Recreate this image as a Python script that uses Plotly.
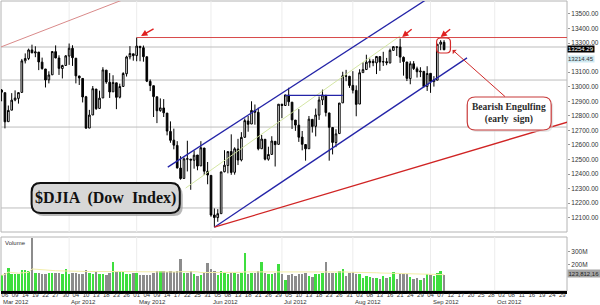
import plotly.graph_objects as go
import pandas as pd

# ---------------- data ----------------
dates = [
 "2012-03-05","2012-03-06","2012-03-07","2012-03-08","2012-03-09","2012-03-12","2012-03-13","2012-03-14","2012-03-15","2012-03-16",
 "2012-03-19","2012-03-20","2012-03-21","2012-03-22","2012-03-23","2012-03-26","2012-03-27","2012-03-28","2012-03-29","2012-03-30",
 "2012-04-02","2012-04-03","2012-04-04","2012-04-05","2012-04-09","2012-04-10","2012-04-11","2012-04-12","2012-04-13","2012-04-16",
 "2012-04-17","2012-04-18","2012-04-19","2012-04-20","2012-04-23","2012-04-24","2012-04-25","2012-04-26","2012-04-27","2012-04-30",
 "2012-05-01","2012-05-02","2012-05-03","2012-05-04","2012-05-07","2012-05-08","2012-05-09","2012-05-10","2012-05-11","2012-05-14",
 "2012-05-15","2012-05-16","2012-05-17","2012-05-18","2012-05-21","2012-05-22","2012-05-23","2012-05-24","2012-05-25","2012-05-29",
 "2012-05-30","2012-05-31","2012-06-01","2012-06-04","2012-06-05","2012-06-06","2012-06-07","2012-06-08","2012-06-11","2012-06-12",
 "2012-06-13","2012-06-14","2012-06-15","2012-06-18","2012-06-19","2012-06-20","2012-06-21","2012-06-22","2012-06-25","2012-06-26",
 "2012-06-27","2012-06-28","2012-06-29","2012-07-02","2012-07-03","2012-07-05","2012-07-06","2012-07-09","2012-07-10","2012-07-11",
 "2012-07-12","2012-07-13","2012-07-16","2012-07-17","2012-07-18","2012-07-19","2012-07-20","2012-07-23","2012-07-24","2012-07-25",
 "2012-07-26","2012-07-27","2012-07-30","2012-07-31","2012-08-01","2012-08-02","2012-08-03","2012-08-06","2012-08-07","2012-08-08",
 "2012-08-09","2012-08-10","2012-08-13","2012-08-14","2012-08-15","2012-08-16","2012-08-17","2012-08-20","2012-08-21","2012-08-22",
 "2012-08-23","2012-08-24","2012-08-27","2012-08-28","2012-08-29","2012-08-30","2012-08-31","2012-09-04","2012-09-05","2012-09-06",
 "2012-09-07","2012-09-10"]

opens = [
 12977,12959,12760,12839,12909,12920,12961,13178,13194,13253,
 13232,13238,13169,13122,13047,13082,13241,13197,13125,13146,
 13211,13264,13196,13074,13057,12931,12716,12806,12984,12851,
 12923,13114,13031,12965,13027,12928,13002,13089,13205,13226,
 13214,13278,13268,13206,13037,13007,12931,12836,12854,12819,
 12693,12633,12597,12441,12370,12505,12503,12495,12531,12456,
 12579,12419,12391,12119,12101,12128,12416,12459,12555,12412,
 12572,12497,12653,12765,12744,12837,12824,12574,12639,12502,
 12535,12625,12604,12879,12871,12942,12894,12771,12736,12654,
 12603,12574,12776,12728,12805,12909,12941,12820,12720,12617,
 12678,12889,13074,13072,13009,12975,12881,13097,13118,13165,
 13175,13164,13207,13170,13172,13164,13250,13274,13273,13202,
 13170,13056,13158,13123,13102,13106,13002,13092,13035,13045,
 13292,13305]

highs = [
 12984,12959,12871,12956,12975,12960,13191,13229,13262,13289,
 13278,13238,13200,13122,13106,13245,13284,13216,13151,13217,
 13297,13285,13196,13074,13057,12937,12841,13005,12984,12973,
 13134,13114,13094,13079,13027,13021,13100,13213,13279,13226,
 13338,13278,13283,13206,13050,13007,12931,12920,12915,12819,
 12762,12712,12626,12523,12514,12629,12503,12561,12531,12626,
 12579,12483,12391,12164,12159,12414,12564,12554,12673,12584,
 12642,12688,12782,12799,12900,12878,12856,12669,12639,12588,
 12660,12625,12881,12884,12944,12993,12894,12771,12846,12696,
 12603,12799,12776,12850,12933,12980,12941,12820,12722,12708,
 12887,13103,13116,13074,13107,13009,13120,13168,13220,13193,
 13190,13209,13207,13240,13198,13262,13279,13274,13331,13208,
 13170,13175,13176,13138,13134,13106,13141,13092,13073,13293,
 13320,13320]

lows = [
 12900,12714,12760,12839,12900,12884,12961,13160,13183,13231,
 13203,13114,13117,12995,13023,13082,13196,13081,13057,13146,
 13150,13143,13023,13012,12892,12710,12716,12806,12841,12851,
 12923,13020,12923,12965,12846,12920,13002,13070,13188,13179,
 13175,13175,13172,13032,12970,12792,12750,12828,12792,12666,
 12615,12570,12438,12361,12370,12418,12292,12437,12426,12456,
 12393,12330,12107,12035,12072,12128,12412,12405,12395,12396,
 12462,12487,12648,12691,12744,12739,12563,12574,12494,12492,
 12534,12452,12604,12784,12871,12868,12710,12697,12621,12563,
 12492,12574,12685,12659,12772,12874,12796,12492,12535,12585,
 12678,12889,13038,12992,12954,12797,12881,13097,13118,13131,
 13141,13087,13109,13143,13148,13160,13247,13211,13164,13076,
 13039,13017,13115,13063,13066,12996,12971,12958,13001,13045,
 13251,13251]

closes = [
 12962.81,12759.15,12837.33,12907.94,12922.02,12959.71,13177.68,13194.10,13252.76,13232.62,
 13239.13,13170.19,13124.62,13046.14,13080.73,13241.63,13197.73,13126.21,13145.82,13212.04,
 13264.49,13199.55,13074.75,13060.14,12929.59,12715.93,12805.39,12986.58,12849.59,12921.41,
 13115.54,13032.75,12964.10,13029.26,12927.17,13001.56,13090.72,13204.62,13228.31,13213.63,
 13279.32,13268.57,13206.59,13038.27,13008.53,12932.09,12835.06,12855.04,12820.60,12695.35,
 12632.00,12598.55,12442.49,12369.38,12504.48,12502.81,12496.15,12529.75,12454.83,12580.69,
 12419.86,12393.45,12118.57,12101.46,12127.95,12414.79,12460.96,12554.20,12411.23,12573.80,
 12496.38,12651.91,12767.17,12741.82,12837.33,12824.39,12573.57,12640.78,12502.66,12534.67,
 12627.01,12602.26,12880.09,12871.39,12943.82,12896.67,12772.47,12736.29,12653.12,12604.53,
 12573.27,12777.09,12727.21,12805.54,12908.70,12943.36,12822.57,12721.46,12617.32,12676.05,
 12887.93,13075.66,13073.01,13008.68,12976.13,12878.88,13096.17,13117.51,13168.60,13175.64,
 13165.19,13207.95,13169.43,13172.14,13164.78,13250.11,13275.20,13271.64,13203.58,13172.76,
 13057.46,13157.97,13124.67,13102.99,13107.48,13000.71,13090.84,13035.94,13047.48,13292.00,
 13306.64,13254.29]

volumes_m = [
 120,135,180,128,128,128,158,158,152,408,
 142,135,130,130,138,135,142,140,132,168,
 128,138,138,128,128,158,138,130,148,130,
 130,125,142,222,148,148,148,130,130,140,
 142,120,120,125,125,142,150,155,150,145,
 155,148,150,245,142,135,152,130,112,125,
 135,212,172,150,125,150,142,130,138,135,
 130,138,290,130,140,140,152,222,142,132,
 130,142,205,132,85,122,128,118,132,132,
 138,118,108,132,132,138,222,142,142,135,
 152,170,118,142,148,132,132,100,115,105,
 102,100,95,112,98,105,145,95,128,130,
 128,108,95,100,85,102,128,122,112,140,
 150,124]

day_ticks = ["06","09","14","19","22","27","30","04","10","13","18","23","26",
             "01","04","09","14","17","22","25","31","05","08","13","18","21","26","29",
             "05","10","13","18","23","26","31","03","08","13","16","21","24","29",
             "04","07","12","17","20","25","28","03","08","11","16","19","24","29"]
month_labels = ["Mar 2012","Apr 2012","May 2012","Jun 2012","Jul 2012","Aug 2012","Sep 2012","Oct 2012"]
month_start_pos = [-1.1, 19, 39, 61, 82, 103, 126, 145]

# 13200 sits behind the "13214.45" marker in the reference, so it is not listed
price_ticks = [12100, 12200, 12300, 12400, 12500, 12600, 12700, 12800, 12900, 13000, 13100, 13300, 13400, 13500]
vol_ticks_m = [200, 300]
support_levels = [13273, 13046, 12723, 12167]
last_close_label = "13254.29"
second_label = "13214.45"
second_value = 13214.45
last_volume_label = "123,812,16"

# trend / channel lines (trading-day position, price)
red_top_line = ([-2, 40], [13266, 13643])
blue_upper = ([48.2, 135], [12448, 13753])
blue_lower = ([62, 136.8], [12035, 13198])
green_mid = ([53.5, 117], [12304, 13349])
blue_flat = ([83, 100], [12940, 12940])
red_flat = ([39, 170], [13338, 13338])
red_lower = ([62, 170], [12035, 12781])

# ---------------- figure ----------------
n = len(dates)
pos = [i - 1 for i in range(n)]
vols = [v * 1e6 for v in volumes_m]
vol_colors = ["#3ede3e" if (i == 0 or closes[i] >= closes[i - 1]) else "#8c8c8c" for i in range(n)]
vol_ma = pd.Series(vols).rolling(50, min_periods=1).mean()

W, H = 600, 305
L, R, T, B = 1, 26, 1, 14
PW, PH = W - L - R, H - T - B

def px(x):
    return (x - L) / PW

def py(y):
    return (H - B - y) / PH

def rrect(x0, y0, x1, y1, r):
    def P(x, y):
        return f"{px(x):.5f},{py(y):.5f}"
    return (f"M {P(x0 + r, y0)} L {P(x1 - r, y0)} Q {P(x1, y0)} {P(x1, y0 + r)} "
            f"L {P(x1, y1 - r)} Q {P(x1, y1)} {P(x1 - r, y1)} L {P(x0 + r, y1)} "
            f"Q {P(x0, y1)} {P(x0, y1 - r)} L {P(x0, y0 + r)} Q {P(x0, y0)} {P(x0 + r, y0)} Z")

fig = go.Figure()

def add_line(xy, color, width):
    fig.add_trace(go.Scatter(x=xy[0], y=xy[1], mode="lines", xaxis="x", yaxis="y",
                             line=dict(color=color, width=width), hoverinfo="skip", showlegend=False))

add_line(red_top_line, "#d98a8a", 1)
add_line(green_mid, "#cfe39a", 0.9)
add_line(blue_upper, "#2424a8", 1.3)
add_line(blue_lower, "#2424a8", 1.3)
add_line(blue_flat, "#2424a8", 1.3)
add_line(red_flat, "#d84a4a", 1)
add_line(red_lower, "#d02424", 1.3)

fig.add_trace(go.Candlestick(
    x=pos, open=opens, high=highs, low=lows, close=closes, xaxis="x", yaxis="y",
    increasing=dict(fillcolor="#ffffff", line=dict(color="#000000", width=1)),
    decreasing=dict(fillcolor="#000000", line=dict(color="#000000", width=1)),
    whiskerwidth=0, showlegend=False, hoverinfo="skip"))

fig.add_trace(go.Bar(x=pos, y=vols, xaxis="x", yaxis="y2", marker=dict(color=vol_colors, line=dict(width=0)),
                     width=0.72, showlegend=False, hoverinfo="skip"))
fig.add_trace(go.Scatter(x=pos, y=vol_ma, xaxis="x", yaxis="y2", mode="lines",
                         line=dict(color="#f3eea8", width=1), showlegend=False, hoverinfo="skip"))

shapes = []
shapes.append(dict(type="rect", xref="paper", yref="y domain", x0=0, x1=1, y0=0, y1=1,
                   line=dict(color="#b4b4b4", width=1), layer="below"))
shapes.append(dict(type="rect", xref="paper", yref="y2 domain", x0=0, x1=1, y0=0, y1=1,
                   line=dict(color="#b4b4b4", width=1), layer="below"))
for m in month_start_pos[1:]:
    for yr in ("y domain", "y2 domain"):
        shapes.append(dict(type="line", xref="x", yref=yr, x0=m, x1=m, y0=0, y1=1,
                           line=dict(color="#ececec", width=1), layer="below"))
for lv in support_levels:
    shapes.append(dict(type="line", xref="paper", yref="y", x0=0, x1=1, y0=lv, y1=lv,
                       line=dict(color="#bdbdbd", width=1), layer="below"))
shapes.append(dict(type="path", xref="paper", yref="paper", path=rrect(35, 186, 185, 216, 9),
                   fillcolor="#9a9a9a", line=dict(width=0), opacity=0.7))
shapes.append(dict(type="path", xref="paper", yref="paper", path=rrect(32, 183, 182, 213, 9),
                   fillcolor="#d7d7d7", line=dict(color="#111111", width=2)))
shapes.append(dict(type="path", xref="paper", yref="paper", path=rrect(475, 99, 560, 132, 8),
                   fillcolor="#d6d6d6", line=dict(width=0), opacity=0.6))
shapes.append(dict(type="path", xref="paper", yref="paper", path=rrect(473, 97, 558, 130, 8),
                   fillcolor="#ffffff", line=dict(color="#c83a3a", width=1.2)))
shapes.append(dict(type="path", xref="paper", yref="paper", path=rrect(442, 38, 456, 53, 4),
                   line=dict(color="#d42a2a", width=1.2)))

annotations = []
annotations.append(dict(xref="paper", yref="paper", x=px(107), y=py(198), text="<b>$DJIA  (Dow  Index)</b>",
                        showarrow=False, font=dict(family="Liberation Serif", size=16, color="#111111"),
                        xanchor="center", yanchor="middle"))
annotations.append(dict(xref="paper", yref="paper", x=px(515.5), y=py(113.5),
                        text="<b>Bearish Engulfing</b><br><b>(early  sign)</b>", showarrow=False,
                        font=dict(family="Liberation Serif", size=9.5, color="#2a2a2a"),
                        xanchor="center", yanchor="middle"))
arrow_specs = [(40.3, 13349, 14, -8), (117.6, 13342, 11, -9), (129.0, 13342, 11, -9)]
for ax_, ay_, dx, dy in arrow_specs:
    annotations.append(dict(x=ax_, y=ay_, xref="x", yref="y", ax=dx, ay=dy, axref="pixel", ayref="pixel",
                            showarrow=True, arrowhead=2, arrowsize=0.9, arrowwidth=1.4,
                            arrowcolor="#e02020", text=""))
annotations.append(dict(x=132.5, y=13253, xref="x", yref="y", ax=54, ay=48, showarrow=True,
                        arrowhead=1, arrowsize=1, arrowwidth=1, arrowcolor="#d02a2a", text=""))
annotations.append(dict(xref="paper", yref="y", x=1.0, y=closes[-1] + 4, text=last_close_label, showarrow=False,
                        xanchor="left", yanchor="middle", bgcolor="#000000",
                        font=dict(size=6, color="#ffffff"), borderpad=0))
annotations.append(dict(xref="paper", yref="y", x=1.0, y=second_value - 22, text=second_label, showarrow=False,
                        xanchor="left", yanchor="middle", bgcolor="#cfe9f1",
                        font=dict(size=6, color="#333333"), borderpad=0))
annotations.append(dict(xref="paper", yref="y2", x=1.0, y=vols[-1] + 8e6, text=last_volume_label, showarrow=False,
                        xanchor="left", yanchor="middle", bgcolor="#a6a6a6",
                        font=dict(size=6, color="#222222"), borderpad=0.5))
annotations.append(dict(xref="paper", yref="y2 domain", x=0.004, y=0.99, text="Volume", showarrow=False,
                        xanchor="left", yanchor="top", font=dict(size=6, color="#333333")))
for lab, mpos in zip(month_labels, month_start_pos):
    annotations.append(dict(xref="x", yref="paper", x=mpos, y=py(301.5), text=lab, showarrow=False,
                            xanchor="left", yanchor="middle", font=dict(size=6, color="#333333")))

fig.update_layout(
    width=W, height=H, margin=dict(l=L, r=R, t=T, b=B),
    paper_bgcolor="#ffffff", plot_bgcolor="#ffffff",
    font=dict(family="Liberation Sans", size=6, color="#333333"),
    showlegend=False, bargap=0,
    xaxis=dict(range=[-1.17, 166.4], anchor="y2", tickmode="array", tickvals=list(range(0, 166, 3)),
               ticktext=day_ticks, tickangle=0, tickfont=dict(size=6, color="#333333"),
               ticklabelstandoff=-4,
               showline=True, linewidth=3, linecolor="#000000", ticks="", showgrid=False,
               zeroline=False, rangeslider=dict(visible=False), fixedrange=True),
    yaxis=dict(domain=[(H - B - 232) / PH, 1], range=[12002, 13589], side="right", anchor="x",
               tickmode="array", tickvals=price_ticks, ticktext=[f"{v:.2f}" for v in price_ticks],
               tickfont=dict(size=6.5, color="#333333"), showgrid=False, zeroline=False,
               ticks="outside", ticklen=2, tickcolor="#999999", showline=False),
    yaxis2=dict(domain=[0, (H - B - 237) / PH], range=[0, 415e6], side="right", anchor="x",
                tickmode="array", tickvals=[v * 1e6 for v in vol_ticks_m], ticktext=[f"{v}M" for v in vol_ticks_m],
                tickfont=dict(size=6.5, color="#333333"), showgrid=False, zeroline=False,
                ticks="outside", ticklen=2, tickcolor="#999999", showline=False),
    shapes=shapes, annotations=annotations,
)

fig.write_html("out.html")
